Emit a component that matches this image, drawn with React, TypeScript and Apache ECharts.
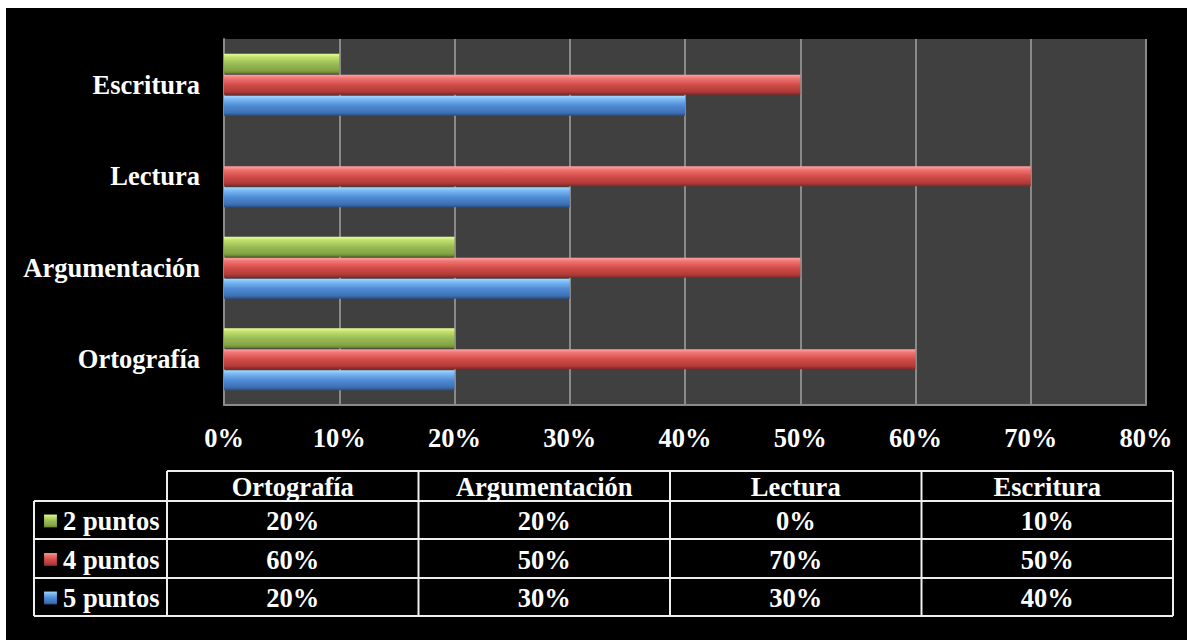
import React, { useEffect, useRef } from 'react';
import * as echarts from 'echarts';

const categories = ['Ortografía', 'Argumentación', 'Lectura', 'Escritura'];
const tableRowNames = ['2 puntos', '4 puntos', '5 puntos'];
const puntos2 = [20, 20, 0, 10];
const puntos4 = [60, 50, 70, 50];
const puntos5 = [20, 30, 30, 40];
const axisMin = 0;
const axisMax = 80;
const axisStep = 10;

const FONT = '"Liberation Serif", "Times New Roman", serif';
const FS = 26.5;

const grad = (stops: string[]) =>
  new echarts.graphic.LinearGradient(0, 0, 0, 1, [
    { offset: 0, color: stops[0] },
    { offset: 0.18, color: stops[1] },
    { offset: 0.5, color: stops[2] },
    { offset: 0.85, color: stops[3] },
    { offset: 1, color: stops[4] },
  ]);

const greenStops = ['#e6ff9a', '#bfe06a', '#9bbb59', '#82a440', '#5f7a2c'];
const redStops = ['#ffa3a1', '#f07471', '#d24d4a', '#b03a37', '#7f2826'];
const blueStops = ['#a8d8ff', '#78b8f4', '#4f8bd4', '#3d70b4', '#2a4f82'];

export default function App() {
  const ref = useRef<HTMLDivElement>(null);

  useEffect(() => {
    if (!ref.current) return;
    const chart = echarts.init(ref.current, undefined, { renderer: 'svg' });
    const W = 1181;

    const seriesData = [puntos2, puntos4, puntos5];
    const rowStops = [greenStops, redStops, blueStops];

    // table layout
    const colX0 = 28;
    const col1 = 161;
    const colRight = 1167;
    const colW = (colRight - col1) / categories.length;
    const headTop = 463;
    const rowLines = [493, 531, 570, 608];
    const lineColor = '#eeeeee';
    const lw = 2;

    const g: any[] = [];
    g.push({ type: 'line', shape: { x1: col1, y1: headTop, x2: colRight, y2: headTop }, style: { stroke: lineColor, lineWidth: lw } });
    for (let i = 0; i <= categories.length; i++) {
      const x = col1 + i * colW;
      g.push({ type: 'line', shape: { x1: x, y1: headTop, x2: x, y2: rowLines[rowLines.length - 1] }, style: { stroke: lineColor, lineWidth: lw } });
    }
    g.push({ type: 'line', shape: { x1: colX0, y1: rowLines[0], x2: colX0, y2: rowLines[rowLines.length - 1] }, style: { stroke: lineColor, lineWidth: lw } });
    rowLines.forEach((y) => {
      g.push({ type: 'line', shape: { x1: colX0, y1: y, x2: colRight, y2: y }, style: { stroke: lineColor, lineWidth: lw } });
    });
    categories.forEach((c, i) => {
      g.push({
        type: 'text',
        x: col1 + (i + 0.5) * colW,
        y: (headTop + rowLines[0]) / 2 + 1,
        style: { text: c, fill: '#ffffff', font: `bold ${FS}px ${FONT}`, align: 'center', verticalAlign: 'middle' },
      });
    });
    tableRowNames.forEach((name, r) => {
      const yc = (rowLines[r] + rowLines[r + 1]) / 2 + 1;
      g.push({
        type: 'rect',
        shape: { x: 38, y: yc - 6.5, width: 13, height: 13 },
        style: { fill: grad(rowStops[r]), stroke: 'rgba(0,0,0,0.3)', lineWidth: 0.5 },
      });
      g.push({
        type: 'text',
        x: 57,
        y: yc,
        style: { text: name, fill: '#ffffff', font: `bold ${FS}px ${FONT}`, align: 'left', verticalAlign: 'middle' },
      });
      seriesData[r].forEach((v, i) => {
        g.push({
          type: 'text',
          x: col1 + (i + 0.5) * colW,
          y: yc,
          style: { text: `${v}%`, fill: '#ffffff', font: `bold ${FS}px ${FONT}`, align: 'center', verticalAlign: 'middle' },
        });
      });
    });

    const barCommon = {
      type: 'bar',
      barWidth: 20,
      barGap: '5%',
    };

    chart.setOption({
      animation: false,
      backgroundColor: '#000000',
      grid: {
        left: 218,
        right: W - 1140,
        top: 31,
        bottom: 235,
        show: true,
        backgroundColor: '#404040',
        borderWidth: 0,
      },
      xAxis: {
        type: 'value',
        min: axisMin,
        max: axisMax,
        interval: axisStep,
        axisLine: { show: true, lineStyle: { color: '#8a8a8a', width: 2 } },
        axisTick: { show: false },
        splitLine: { show: true, lineStyle: { color: '#8a8a8a', width: 2 } },
        axisLabel: {
          formatter: '{value}%',
          color: '#ffffff',
          fontFamily: FONT,
          fontWeight: 'bold',
          fontSize: FS,
          margin: 19,
        },
      },
      yAxis: {
        type: 'category',
        data: categories,
        axisLine: { show: true, lineStyle: { color: '#8a8a8a', width: 2 } },
        axisTick: { show: false },
        axisLabel: {
          color: '#ffffff',
          fontFamily: FONT,
          fontWeight: 'bold',
          fontSize: FS,
          margin: 24,
        },
      },
      series: [
        { ...barCommon, name: '2 puntos', data: puntos2, itemStyle: { color: grad(greenStops) } },
        { ...barCommon, name: '4 puntos', data: puntos4, itemStyle: { color: grad(redStops) } },
        { ...barCommon, name: '5 puntos', data: puntos5, itemStyle: { color: grad(blueStops) } },
      ],
      graphic: g,
    });

    return () => chart.dispose();
  }, []);

  return (
    <div
      ref={ref}
      style={{ position: 'absolute', left: 6, top: 8, width: 1181, height: 632 }}
    />
  );
}
